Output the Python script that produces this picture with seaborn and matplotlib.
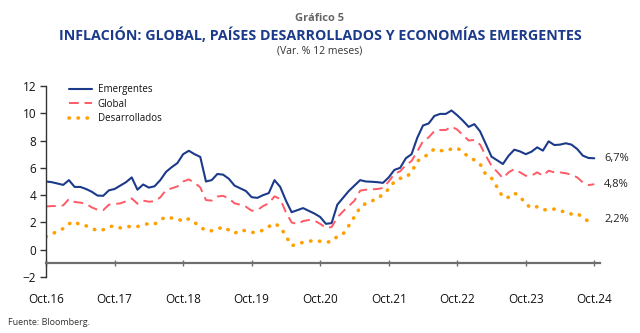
import numpy as np
import pandas as pd
import matplotlib
matplotlib.use("Agg")
import matplotlib.pyplot as plt
import seaborn as sns

# ---- data (monthly, Oct 2016 .. Oct 2024) ----
emergentes = [5.0, 4.95, 4.85, 4.75, 5.1, 4.6, 4.6, 4.45, 4.25, 3.97,
              3.95, 4.35, 4.45, 4.7, 4.95, 5.3, 4.4, 4.78, 4.55, 4.65,
              5.1, 5.7, 6.05, 6.35, 7.0, 7.25, 7.0, 6.8, 5.0, 5.1,
              5.55, 5.5, 5.2, 4.7, 4.5, 4.3, 3.85, 3.8, 4.0, 4.15,
              5.1, 4.6, 3.6, 2.75, 2.9, 3.05, 2.85, 2.65, 2.4, 1.9,
              1.95, 3.3, 3.8, 4.3, 4.7, 5.1, 5.0, 4.98, 4.95, 4.9,
              5.3, 5.85, 6.0, 6.7, 7.0, 8.2, 9.1, 9.25, 9.8, 9.95,
              9.95, 10.2, 9.85, 9.45, 9.0, 9.2, 8.67, 7.75, 6.82, 6.55,
              6.28, 6.89, 7.33, 7.2, 7.0, 7.18, 7.5, 7.26, 7.94, 7.67,
              7.7, 7.8, 7.7, 7.38, 6.89, 6.72, 6.7]
global_ = [3.17, 3.2, 3.2, 3.25, 3.72, 3.5, 3.45, 3.37, 3.1, 2.93,
           2.9, 3.3, 3.35, 3.4, 3.55, 3.76, 3.37, 3.6, 3.52, 3.55,
           3.84, 4.37, 4.5, 4.64, 5.0, 5.15, 4.9, 4.57, 3.64, 3.6,
           3.9, 3.95, 3.76, 3.4, 3.3, 3.15, 2.86, 2.9, 3.2, 3.4,
           3.91, 3.72, 2.74, 2.0, 1.88, 2.1, 2.18, 2.13, 1.9, 1.6,
           1.66, 2.37, 2.81, 3.2, 3.59, 4.33, 4.4, 4.42, 4.45, 4.52,
           5.0, 5.55, 5.75, 6.2, 6.5, 7.2, 7.95, 8.23, 8.7, 8.77,
           8.77, 9.02, 8.8, 8.4, 8.0, 8.04, 7.7, 6.89, 6.16, 5.7,
           5.25, 5.67, 5.91, 5.67, 5.42, 5.42, 5.67, 5.42, 5.79, 5.67,
           5.67, 5.6, 5.5, 5.3, 4.93, 4.74, 4.8]
desarrollados = [0.95, 1.15, 1.35, 1.55, 1.9, 2.07, 1.8, 1.75, 1.56, 1.4,
                 1.47, 1.68, 1.75, 1.6, 1.7, 1.7, 1.7, 1.8, 1.93, 1.88,
                 2.18, 2.42, 2.32, 2.27, 2.07, 2.27, 2.0, 1.68, 1.39, 1.39,
                 1.5, 1.68, 1.44, 1.2, 1.44, 1.39, 1.27, 1.27, 1.44, 1.7,
                 1.93, 1.68, 1.0, 0.3, 0.4, 0.55, 0.62, 0.68, 0.62, 0.55,
                 0.6, 0.98, 1.15, 1.76, 2.42, 3.1, 3.4, 3.57, 3.72, 4.08,
                 4.45, 5.0, 5.23, 5.3, 5.67, 6.5, 6.7, 7.06, 7.38, 7.26,
                 7.26, 7.38, 7.45, 7.14, 6.8, 6.57, 6.28, 5.5, 5.25, 4.57,
                 3.84, 3.84, 4.15, 3.9, 3.35, 3.05, 3.15, 2.93, 2.93, 2.98,
                 2.81, 2.81, 2.61, 2.66, 2.37, 2.07, 2.2]
series_names = ["Emergentes", "Global", "Desarrollados"]
end_labels = ["6,7%", "4,8%", "2,2%"]
tick_labels = ["Oct.16", "Oct.17", "Oct.18", "Oct.19", "Oct.20",
               "Oct.21", "Oct.22", "Oct.23", "Oct.24"]
y_ticks = [-2, 0, 2, 4, 6, 8, 10, 12]

months = np.arange(len(emergentes))
df = pd.DataFrame({"m": months, "Emergentes": emergentes,
                   "Global": global_, "Desarrollados": desarrollados})

sns.set_style("white")
plt.rcParams["font.family"] = ["Open Sans", "DejaVu Sans"]

fig = plt.figure(figsize=(6.4, 3.33), dpi=100)
ax = fig.add_axes([0.072, 0.168, 0.8655, 0.574])

navy = "#1b3a8a"
red = "#ff5a66"
orange = "#ffa000"

sns.lineplot(data=df, x="m", y="Emergentes", ax=ax, color=navy, lw=1.5,
             label="Emergentes")
sns.lineplot(data=df, x="m", y="Global", ax=ax, color=red, lw=1.4,
             label="Global", dashes=False)
ax.lines[-1].set_dashes([5, 3])
sns.lineplot(data=df, x="m", y="Desarrollados", ax=ax, color=orange, lw=2.6,
             label="Desarrollados")
ax.lines[-1].set_dashes([0.1, 2.4])
ax.lines[-1].set_dash_capstyle("round")

ax.set_xlim(0, 97)
ax.set_ylim(-2, 12)
ax.set_xticks(np.arange(0, 97, 12))
ax.set_xticklabels(tick_labels)
ax.set_yticks(y_ticks)
ax.set_xlabel("")
ax.set_ylabel("")

for s in ["top", "right"]:
    ax.spines[s].set_visible(False)
ax.spines["left"].set_color("#333333")
ax.spines["left"].set_linewidth(1.0)
ax.spines["bottom"].set_position(("data", -1))
ax.spines["bottom"].set_color("#6e6e6e")
ax.spines["bottom"].set_linewidth(1.6)
ax.tick_params(axis="y", direction="out", length=4, width=1, color="#333333",
               labelsize=8.5, pad=3, left=True)
ax.tick_params(axis="x", direction="inout", length=5, width=1, color="#6e6e6e",
               labelsize=8.5, pad=19, bottom=True)
for lbl in ax.get_xticklabels() + ax.get_yticklabels():
    lbl.set_color("#111111")

leg = ax.legend(loc="upper left", bbox_to_anchor=(0.025, 1.055), frameon=False,
                fontsize=7, handlelength=2.4, labelspacing=0.35,
                handletextpad=0.6)
for t in leg.get_texts():
    t.set_color("#111111")

for vals, lab in zip([emergentes, global_, desarrollados], end_labels):
    ax.annotate(lab, xy=(months[-1], vals[-1]), xytext=(7, 0),
                textcoords="offset points", va="center", ha="left",
                fontsize=8, color="#222222", annotation_clip=False)

fig.text(0.5, 0.945, "Gráfico 5", ha="center", va="center", fontsize=8,
         color="#666666", fontweight="bold")
fig.text(0.5, 0.895, "INFLACIÓN: GLOBAL, PAÍSES DESARROLLADOS Y ECONOMÍAS EMERGENTES",
         ha="center", va="center", fontsize=10.3, color="#1b3a8a",
         fontweight="bold")
fig.text(0.5, 0.848, "(Var. % 12 meses)", ha="center", va="center",
         fontsize=7.5, color="#333333")
fig.text(0.012, 0.033, "Fuente: Bloomberg.", ha="left", va="center",
         fontsize=6.5, color="#333333")

fig.savefig("out.png", dpi=100)
